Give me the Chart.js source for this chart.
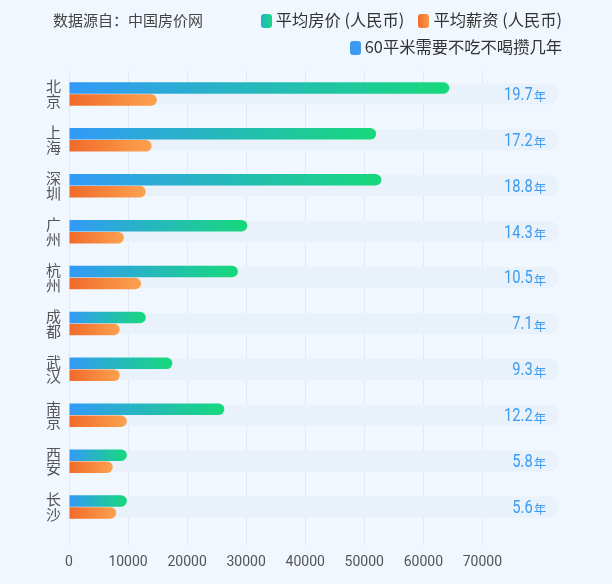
<!DOCTYPE html>
<html>
<head>
<meta charset="utf-8">
<script src="https://cdn.jsdelivr.net/npm/chart.js@4.4.0/dist/chart.umd.min.js"></script>
<style>
  html, body { margin: 0; padding: 0; background: #f1f7fe; }
  #wrap { position: relative; width: 612px; height: 584px; font-family: "Noto Sans CJK SC", sans-serif; }
  #source { position: absolute; left: 53px; top: 9px; font-size: 15px; color: #444; }
  #legend { position: absolute; right: 50px; top: 6px; text-align: right; font-size: 16.3px; color: #333; line-height: 27px; }
  .item { display: inline-block; margin-left: 14px; white-space: nowrap; }
  .box { display: inline-block; width: 11px; height: 14px; border-radius: 3px; vertical-align: -2px; margin-right: 4px; }
  canvas { position: absolute; left: 0; top: 0; }
</style>
</head>
<body>
<div id="wrap">
  <canvas id="cityChart" width="612" height="584"></canvas>
  <div id="source">数据源自：中国房价网</div>
  <div id="legend"></div>
</div>
<script>
const cities = [['北', '京'], ['上', '海'], ['深', '圳'], ['广', '州'], ['杭', '州'],
  ['成', '都'], ['武', '汉'], ['南', '京'], ['西', '安'], ['长', '沙']];
const housePrice = [64400, 52000, 52900, 30200, 28600, 13000, 17500, 26300, 9800, 9800];
const salary = [14900, 14000, 13000, 9300, 12200, 8600, 8600, 9800, 7400, 8000];
const years = [19.7, 17.2, 18.8, 14.3, 10.5, 7.1, 9.3, 12.2, 5.8, 5.6];
const xTicks = [0, 10000, 20000, 30000, 40000, 50000, 60000, 70000];
const trackEnd = 83000;

// gradient along each bar, from its base to its end
function barGradient(ctx, from, to) {
  const chart = ctx.chart;
  if (!chart.chartArea || ctx.type !== 'data') return from;
  const x = chart.scales.x;
  const g = chart.ctx.createLinearGradient(x.getPixelForValue(0), 0, x.getPixelForValue(ctx.raw), 0);
  g.addColorStop(0, from);
  g.addColorStop(1, to);
  return g;
}

// "19.7年" labels at the end of each track (digits squeezed a little)
const yearLabels = {
  id: 'yearLabels',
  afterDatasetsDraw(chart) {
    const { ctx, scales: { x, y } } = chart;
    const right = x.getPixelForValue(trackEnd) - 13;
    ctx.save();
    ctx.textBaseline = 'middle';
    ctx.textAlign = 'right';
    ctx.fillStyle = '#3d9bf2';
    years.forEach((v, i) => {
      const cy = y.getPixelForValue(i) + 1.5;
      ctx.font = '12.5px "Noto Sans CJK SC"';
      ctx.fillText('年', right, cy + 1);
      const w = ctx.measureText('年').width;
      ctx.save();
      ctx.translate(right - w - 1, cy);
      ctx.scale(0.84, 1);
      ctx.font = '17.5px Roboto';
      ctx.fillText(v.toFixed(1), 0, 0);
      ctx.restore();
    });
    ctx.restore();
  }
};

const chart = new Chart(document.getElementById('cityChart'), {
  type: 'bar',
  data: {
    labels: cities,
    datasets: [
      {
        label: '平均房价 (人民币)',
        data: housePrice,
        backgroundColor: (c) => barGradient(c, '#3399f8', '#17d97b'),
        borderRadius: 6,
        borderSkipped: 'start',
        categoryPercentage: 0.523,
        barPercentage: 0.958,
        order: 1,
      },
      {
        label: '平均薪资 (人民币)',
        data: salary,
        backgroundColor: (c) => barGradient(c, '#f06a2a', '#fca24f'),
        borderRadius: 6,
        borderSkipped: 'start',
        categoryPercentage: 0.523,
        barPercentage: 0.958,
        order: 1,
      },
      {
        label: '60平米需要不吃不喝攒几年',
        data: cities.map(() => trackEnd),
        backgroundColor: '#e9f1fa',
        borderRadius: 11,
        borderSkipped: 'start',
        grouped: false,
        categoryPercentage: 0.46,
        barPercentage: 1,
        order: 2,
      },
    ],
  },
  options: {
    indexAxis: 'y',
    responsive: false,
    animation: false,
    layout: { padding: { top: 71, right: 41, left: 0, bottom: 0 } },
    plugins: {
      legend: { display: false },
      tooltip: { enabled: false },
    },
    scales: {
      x: {
        min: 0,
        max: 85000,
        afterBuildTicks: (scale) => {
          scale.ticks = xTicks.map((v) => ({ value: v }));
        },
        afterFit: (scale) => { scale.height = 54; },
        grid: { color: '#e1eaf4', tickLength: 15, tickColor: '#e1eaf4' },
        border: { display: false },
        ticks: {
          padding: 9,
          color: '#555',
          font: { family: 'Roboto', size: 14 },
          maxRotation: 0,
          callback: (v) => String(v),
        },
      },
      y: {
        afterFit: (scale) => { scale.width = 69; },
        grid: { display: false, drawTicks: false },
        border: { display: false },
        ticks: {
          padding: 8,
          color: '#555',
          font: { family: '"Noto Sans CJK SC"', size: 15, lineHeight: 0.98 },
        },
      },
    },
  },
  plugins: [yearLabels],
});

// legend in two rows, built from the datasets
const swatches = [
  'linear-gradient(90deg, #22b3c9, #17d97b)',
  'linear-gradient(90deg, #f06a2a, #fb9a48)',
  '#3d9bf2',
];
const rows = [[0, 1], [2]];
document.getElementById('legend').innerHTML = rows.map((r) =>
  '<div>' + r.map((i) =>
    '<span class="item"><span class="box" style="background:' + swatches[i] + '"></span>' +
    chart.data.datasets[i].label + '</span>').join('') + '</div>'
).join('');
</script>
</body>
</html>
